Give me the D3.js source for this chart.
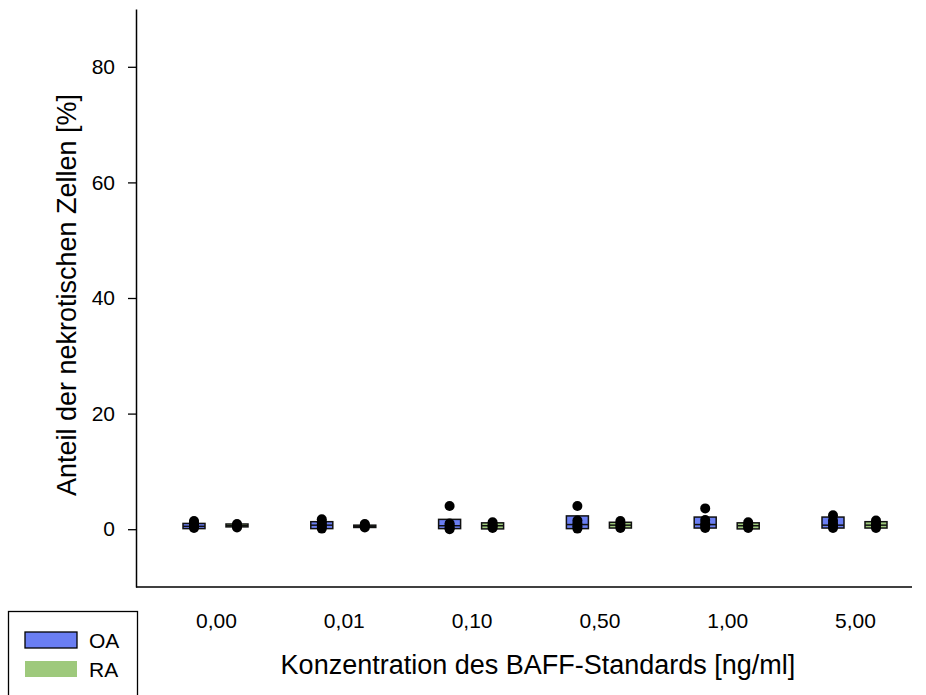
<!DOCTYPE html>
<html>
<head>
<meta charset="utf-8">
<script src="https://cdn.jsdelivr.net/npm/d3@7"></script>
<style>
  body { margin: 0; background: #fff; }
  svg { display: block; font-family: Arial, "Liberation Sans", sans-serif; }
</style>
</head>
<body>
<svg id="chart" width="926" height="695"></svg>
<script>
// ---- data ----
const categories = ["0,00", "0,01", "0,10", "0,50", "1,00", "5,00"];
const seriesNames = ["OA", "RA"];
const yTicks = [0, 20, 40, 60, 80];

// box quartiles (q1, median, q3) per category
const oaQ1 = [0.1, 0.1, 0.1, 0.1, 0.2, 0.2];
const oaMed = [0.5, 0.7, 0.6, 0.8, 0.8, 0.7];
const oaQ3 = [1.0, 1.3, 1.7, 2.3, 2.1, 2.1];
const raQ1 = [0.4, 0.3, 0.05, 0.2, 0.05, 0.2];
const raMed = [0.6, 0.5, 0.6, 0.7, 0.6, 0.7];
const raQ3 = [0.9, 0.7, 1.1, 1.2, 1.1, 1.3];

// individual points per category
const oaPoints = [
  [0.2, 0.5, 0.8, 1.1, 1.4],
  [0.1, 0.4, 0.8, 1.2, 1.7],
  [0.0, 0.3, 0.7, 1.0, 4.0],
  [0.1, 0.5, 1.0, 1.5, 4.0],
  [0.2, 0.6, 1.0, 1.6, 3.6],
  [0.2, 0.6, 1.0, 1.5, 2.4]
];
const raPoints = [
  [0.3, 0.5, 0.7, 0.9],
  [0.3, 0.5, 0.7, 0.9],
  [0.2, 0.5, 0.8, 1.2],
  [0.2, 0.6, 1.0, 1.4],
  [0.2, 0.5, 0.8, 1.2],
  [0.2, 0.6, 1.0, 1.5]
];

const yTitle = "Anteil der nekrotischen Zellen [%]";
const xTitle = "Konzentration des BAFF-Standards [ng/ml]";
const colors = { OA: "#6a7ef2", RA: "#9ec97c" };

// ---- layout ----
const svg = d3.select("#chart");
const plot = { left: 136, right: 912, top: 9, bottom: 587 };
const FONT = "Arial, 'Liberation Sans', sans-serif";

const y = d3.scaleLinear().domain([-10, 90]).range([plot.bottom, plot.top]);
const x = d3.scalePoint().domain(categories).range([216, 855]);
const offset = d3.scalePoint().domain(seriesNames).range([-22, 21]);
const boxW = 22;

// axes
const yAxis = d3.axisLeft(y).tickValues(yTicks).tickSize(8).tickSizeOuter(0).tickPadding(13);
const gy = svg.append("g").attr("transform", `translate(${plot.left},0)`).call(yAxis);
gy.select(".domain").attr("stroke", "#000").attr("stroke-width", 1.5);
gy.selectAll(".tick line").attr("stroke", "#000").attr("stroke-width", 1.3);
gy.selectAll(".tick text").attr("font-size", 21).attr("fill", "#000").attr("font-family", FONT);

const xAxis = d3.axisBottom(x).tickSize(0).tickSizeOuter(0).tickPadding(26);
const gx = svg.append("g").attr("transform", `translate(0,${plot.bottom})`).call(xAxis);
gx.select(".domain").remove();
gx.append("line").attr("x1", plot.left).attr("x2", plot.right)
  .attr("stroke", "#000").attr("stroke-width", 1.5);
gx.selectAll(".tick text").attr("font-size", 21).attr("fill", "#000").attr("font-family", FONT);

// boxes
const series = [
  { name: "OA", q1: oaQ1, med: oaMed, q3: oaQ3, pts: oaPoints },
  { name: "RA", q1: raQ1, med: raMed, q3: raQ3, pts: raPoints }
];

series.forEach(s => {
  const g = svg.append("g");
  categories.forEach((c, i) => {
    const cx = x(c) + offset(s.name);
    g.append("rect")
      .attr("x", cx - boxW / 2)
      .attr("y", y(s.q3[i]))
      .attr("width", boxW)
      .attr("height", Math.max(1, y(s.q1[i]) - y(s.q3[i])))
      .attr("fill", colors[s.name])
      .attr("stroke", "#111")
      .attr("stroke-width", 1.5);
    g.append("line")
      .attr("x1", cx - boxW / 2).attr("x2", cx + boxW / 2)
      .attr("y1", y(s.med[i])).attr("y2", y(s.med[i]))
      .attr("stroke", "#111").attr("stroke-width", 1.5);
    g.selectAll(null).data(s.pts[i]).join("circle")
      .attr("cx", cx).attr("cy", d => y(d)).attr("r", 5)
      .attr("fill", "#000");
  });
});

// titles
svg.append("text")
  .attr("x", 538).attr("y", 674)
  .attr("text-anchor", "middle").attr("font-size", 27).attr("fill", "#000")
  .attr("font-family", FONT)
  .text(xTitle);
svg.append("text")
  .attr("transform", `translate(76,295) rotate(-90)`)
  .attr("text-anchor", "middle").attr("font-size", 27).attr("fill", "#000")
  .attr("font-family", FONT)
  .text(yTitle);

// legend
const lg = svg.append("g");
lg.append("rect").attr("x", 8.5).attr("y", 611.5).attr("width", 129).attr("height", 90)
  .attr("fill", "#fff").attr("stroke", "#000").attr("stroke-width", 1.3);
seriesNames.forEach((n, i) => {
  const yy = 632 + i * 29;
  lg.append("rect").attr("x", 25).attr("y", yy).attr("width", 52).attr("height", 16)
    .attr("fill", colors[n])
    .attr("stroke", n === "OA" ? "#000" : "none").attr("stroke-width", 1.3);
  lg.append("text").attr("x", 89).attr("y", yy + 15.5)
    .attr("font-size", 21).attr("fill", "#000").attr("font-family", FONT).text(n);
});
</script>
</body>
</html>
